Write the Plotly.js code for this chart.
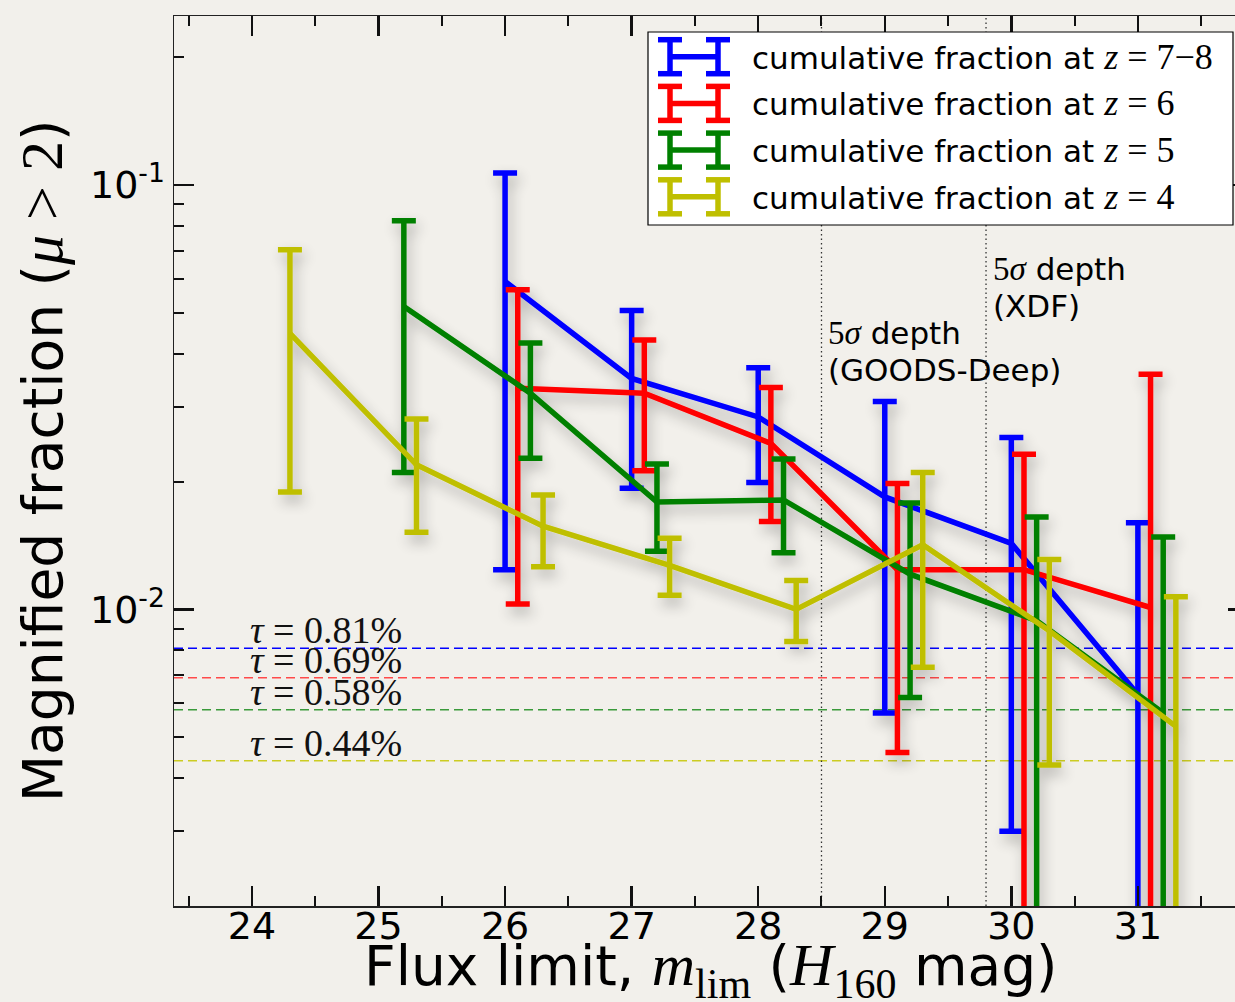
<!DOCTYPE html>
<html>
<head>
<meta charset="utf-8">
<script src="https://cdn.plot.ly/plotly-3.0.1.min.js"></script>
<style>
  html, body { margin: 0; padding: 0; overflow: hidden; background: #f2f0eb; }
</style>
</head>
<body>
<div id="chart"></div>
<script>
// Cumulative magnified fraction (mu > 2) versus limiting H160 magnitude, per redshift sample.
// Each sample: magnitude limits, fraction, and the upper / lower ends of its error bar.
const mlimZ78 = [26, 27, 28, 29, 30, 31];
const fracZ78 = [0.0592, 0.0350, 0.0284, 0.0184, 0.0143, 0.0063];
const hiZ78   = [0.1066, 0.0506, 0.0371, 0.0309, 0.0254, 0.0160];
const loZ78   = [0.0124, 0.0193, 0.0199, 0.0057, 0.0030, 0];

const mlimZ6 = [26, 27, 28, 29, 30, 31];
const fracZ6 = [0.0332, 0.0323, 0.0246, 0.0124, 0.0124, 0.0101];
const hiZ6   = [0.0566, 0.0431, 0.0333, 0.0198, 0.0232, 0.0358];
const loZ6   = [0.0103, 0.0212, 0.0161, 0.0046, 0, 0];

const mlimZ5 = [25, 26, 27, 28, 29, 30, 31];
const fracZ5 = [0.0517, 0.0323, 0.0179, 0.0181, 0.0121, 0.0094, 0.0057];
const hiZ5   = [0.0823, 0.0424, 0.0220, 0.0226, 0.0178, 0.0165, 0.0148];
const loZ5   = [0.0210, 0.0227, 0.0137, 0.0136, 0.0062, 0, 0];

const mlimZ4 = [24, 25, 26, 27, 28, 29, 30, 31];
const fracZ4 = [0.0447, 0.0219, 0.0157, 0.0127, 0.0100, 0.0142, 0.0089, 0.0053];
const hiZ4   = [0.0703, 0.0281, 0.0186, 0.0147, 0.0117, 0.0210, 0.0131, 0.0107];
const loZ4   = [0.0189, 0.0152, 0.0126, 0.0108, 0.0084, 0.0073, 0.0043, 0];

const redshiftLabels = ['7\u22128', '6', '5', '4'];
const seriesColors   = ['#0000ff', '#ff0000', '#008000', '#bfbf00'];
const dodge          = [0, 0.1, 0.2, 0.3];   // small horizontal offsets so the bars do not overlap

// Optical depths (tau) for each sample, drawn as dashed reference levels
const tauValues = [0.0081, 0.0069, 0.0058, 0.0044];
const tauColors = ['#0000ff', '#ff4a4a', '#3a9a3a', '#cccc22'];

// 5-sigma survey depths
const depthMags  = [28.5, 29.8];
const depthNames = ['GOODS-Deep', 'XDF'];
const depthLabelY = [0.0500, 0.0708];

const samples = [
  { mlim: mlimZ78, frac: fracZ78, hi: hiZ78, lo: loZ78 },
  { mlim: mlimZ6,  frac: fracZ6,  hi: hiZ6,  lo: loZ6 },
  { mlim: mlimZ5,  frac: fracZ5,  hi: hiZ5,  lo: loZ5 },
  { mlim: mlimZ4,  frac: fracZ4,  hi: hiZ4,  lo: loZ4 }
];

// ---- frame geometry (pixels) ----
const W = 1260, H = 1002;
const M = { l: 174, r: 12, t: 16, b: 96 };
const PW = W - M.l - M.r, PH = H - M.t - M.b;
const px = x => (x - M.l) / PW;
const py = y => (M.t + PH - y) / PH;

const SANS = 'DejaVu Sans';
const SERIF = 'Liberation Serif';
const math = (s, size) => '<span style="font-family:' + SERIF +
  (size ? ';font-size:' + size + 'px' : '') + '">' + s + '</span>';

// ---- traces ----
const traces = samples.map((s, i) => ({
  type: 'scatter',
  mode: 'lines',
  x: s.mlim.map(m => m + dodge[i]),
  y: s.frac,
  line: { color: seriesColors[i], width: 5.5 },
  error_y: {
    type: 'data', symmetric: false,
    array: s.hi.map((h, k) => h - s.frac[k]),
    arrayminus: s.lo.map((l, k) => s.frac[k] - l),
    color: seriesColors[i], thickness: 5.5, width: 12
  },
  name: 'z=' + redshiftLabels[i],
  showlegend: false,
  hoverinfo: 'x+y'
}));

// ---- shapes ----
const shapes = [];
tauValues.forEach((t, i) => shapes.push({
  type: 'line', layer: 'below', xref: 'paper', x0: 0, x1: 1, yref: 'y', y0: t, y1: t,
  line: { color: tauColors[i], width: 1.5, dash: '9px,5px' }
}));
depthMags.forEach(m => shapes.push({
  type: 'line', layer: 'below', xref: 'x', x0: m, x1: m, yref: 'paper', y0: 0, y1: 1,
  line: { color: '#333', width: 1.3, dash: '1.5px,3px' }
}));

// legend box with errorbar glyphs
const LEG = { x0: 648, y0: 32, x1: 1233, y1: 225, row0: 56.7, step: 46.7,
              stemL: 670, stemR: 718, cap: 12, half: 17, textX: 750 };
const legendBoxIndex = shapes.length;
shapes.push({
  type: 'rect', layer: 'above', xref: 'paper', yref: 'paper',
  x0: px(LEG.x0), x1: px(LEG.x1), y0: py(LEG.y1), y1: py(LEG.y0),
  fillcolor: '#ffffff', line: { color: '#000000', width: 1.2 }
});
const seg = (x0, y0, x1, y1, c) => ({
  type: 'line', layer: 'above', xref: 'paper', yref: 'paper',
  x0: px(x0), x1: px(x1), y0: py(y0), y1: py(y1), line: { color: c, width: 5.5 }
});
seriesColors.forEach((c, i) => {
  const yc = LEG.row0 + i * LEG.step;
  shapes.push(seg(LEG.stemL, yc, LEG.stemR, yc, c));
  [LEG.stemL, LEG.stemR].forEach(xs => {
    shapes.push(seg(xs, yc - LEG.half, xs, yc + LEG.half, c));
    shapes.push(seg(xs - LEG.cap, yc - LEG.half, xs + LEG.cap, yc - LEG.half, c));
    shapes.push(seg(xs - LEG.cap, yc + LEG.half, xs + LEG.cap, yc + LEG.half, c));
  });
});

// ---- annotations ----
const annotations = [];
redshiftLabels.forEach((z, i) => annotations.push({
  xref: 'paper', yref: 'paper', x: px(LEG.textX), y: py(LEG.row0 + i * LEG.step),
  xanchor: 'left', yanchor: 'middle', showarrow: false,
  text: 'cumulative fraction at ' + math('<i>z</i> = ' + z, 36),
  font: { family: SANS, size: 31, color: '#000' }
}));
tauValues.forEach(t => annotations.push({
  xref: 'x', yref: 'y', x: 24, y: Math.log10(t), xanchor: 'left', yanchor: 'bottom',
  xshift: -4, yshift: -5, showarrow: false,
  text: '<i>\u03c4</i> = ' + (t * 100).toFixed(2) + '%',
  font: { family: SERIF, size: 38, color: '#111' }
}));
depthMags.forEach((m, i) => {
  annotations.push({
    xref: 'x', yref: 'y', x: m, y: Math.log10(depthLabelY[i]), xanchor: 'left', yanchor: 'top',
    xshift: 5, showarrow: false, align: 'left',
    text: math('5<i>\u03c3</i>', 33) + ' depth',
    font: { family: SANS, size: 31, color: '#000' }
  });
  annotations.push({
    xref: 'x', yref: 'y', x: m, y: Math.log10(depthLabelY[i]), xanchor: 'left', yanchor: 'top',
    xshift: 5, yshift: -37, showarrow: false, align: 'left',
    text: '(' + depthNames[i] + ')',
    font: { family: SANS, size: 31, color: '#000' }
  });
});
// x-axis title, set just below the tick labels
annotations.push({
  xref: 'paper', yref: 'paper', x: 0.5, y: py(970), xanchor: 'center', yanchor: 'middle',
  showarrow: false,
  text: 'Flux limit, ' + math('<i>m</i><sub>lim</sub>', 60) + ' (' + math('<i>H</i><sub>160</sub>', 60) + ' mag)',
  font: { family: SANS, size: 55, color: '#000' }
});

const layout = {
  width: W, height: H,
  margin: M,
  paper_bgcolor: '#f2f0eb',
  plot_bgcolor: '#f2f0eb',
  font: { family: SANS, color: '#000' },
  xaxis: {
    range: [23.384, 31.87],
    tickmode: 'linear', tick0: 0, dtick: 1,
    ticks: 'inside', ticklen: 20, tickwidth: 2.5, tickcolor: '#111',
    ticklabelstandoff: -14,
    minor: { dtick: 0.5, tick0: 0, ticks: 'inside', ticklen: 10, tickwidth: 2, tickcolor: '#111' },
    showline: true, linecolor: '#222', linewidth: 1.5, mirror: 'ticks',
    showgrid: false, zeroline: false,
    tickfont: { family: SANS, size: 38 },
    automargin: false
  },
  yaxis: {
    type: 'log',
    range: [Math.log10(0.002), Math.log10(0.25)],
    tickmode: 'array', tickvals: [0.01, 0.1], ticktext: ['10<sup>-2</sup>', '10<sup>-1</sup>'],
    ticks: 'inside', ticklen: 20, tickwidth: 2.5, tickcolor: '#111',
    minor: {
      tickmode: 'array',
      tickvals: [0.002, 0.003, 0.004, 0.005, 0.006, 0.007, 0.008, 0.009,
                 0.02, 0.03, 0.04, 0.05, 0.06, 0.07, 0.08, 0.09, 0.2],
      ticks: 'inside', ticklen: 10, tickwidth: 2, tickcolor: '#111'
    },
    showline: true, linecolor: '#222', linewidth: 1.5, mirror: 'ticks',
    showgrid: false, zeroline: false,
    tickfont: { family: SANS, size: 38 },
    title: {
      text: 'Magnified fraction (' + math('<i>\u03bc</i> &gt; 2', 60) + ')',
      font: { family: SANS, size: 55 }, standoff: 10
    },
    automargin: false
  },
  shapes: shapes,
  annotations: annotations,
  showlegend: false
};

// soft drop shadows under the curves and the legend box
function addShadows(gd) {
  const ns = 'http://www.w3.org/2000/svg';
  const svg = gd.querySelector('.main-svg');
  let defs = svg.querySelector('defs');
  if (!defs) { defs = document.createElementNS(ns, 'defs'); svg.insertBefore(defs, svg.firstChild); }
  const mk = (id, blur, dx, dy, alpha) => {
    const f = document.createElementNS(ns, 'filter');
    f.setAttribute('id', id);
    f.setAttribute('x', '-20%'); f.setAttribute('y', '-20%');
    f.setAttribute('width', '140%'); f.setAttribute('height', '140%');
    f.innerHTML =
      '<feGaussianBlur in="SourceAlpha" stdDeviation="' + blur + '" result="b"/>' +
      '<feOffset in="b" dx="' + dx + '" dy="' + dy + '" result="o"/>' +
      '<feComponentTransfer in="o" result="s"><feFuncA type="linear" slope="' + alpha + '"/></feComponentTransfer>' +
      '<feMerge><feMergeNode in="s"/><feMergeNode in="SourceGraphic"/></feMerge>';
    defs.appendChild(f);
  };
  mk('curveShadow', 7, 3, 7, 0.3);
  mk('boxShadow', 10, 4, 10, 0.6);
  const sl = svg.querySelector('.cartesianlayer .scatterlayer');
  if (sl) sl.setAttribute('filter', 'url(#curveShadow)');
  const box = svg.querySelector('.layer-above .shapelayer path[data-index="' + legendBoxIndex + '"]');
  if (box) box.setAttribute('filter', 'url(#boxShadow)');
}

Plotly.newPlot('chart', traces, layout, { staticPlot: true, displayModeBar: false })
  .then(addShadows);
</script>
</body>
</html>
